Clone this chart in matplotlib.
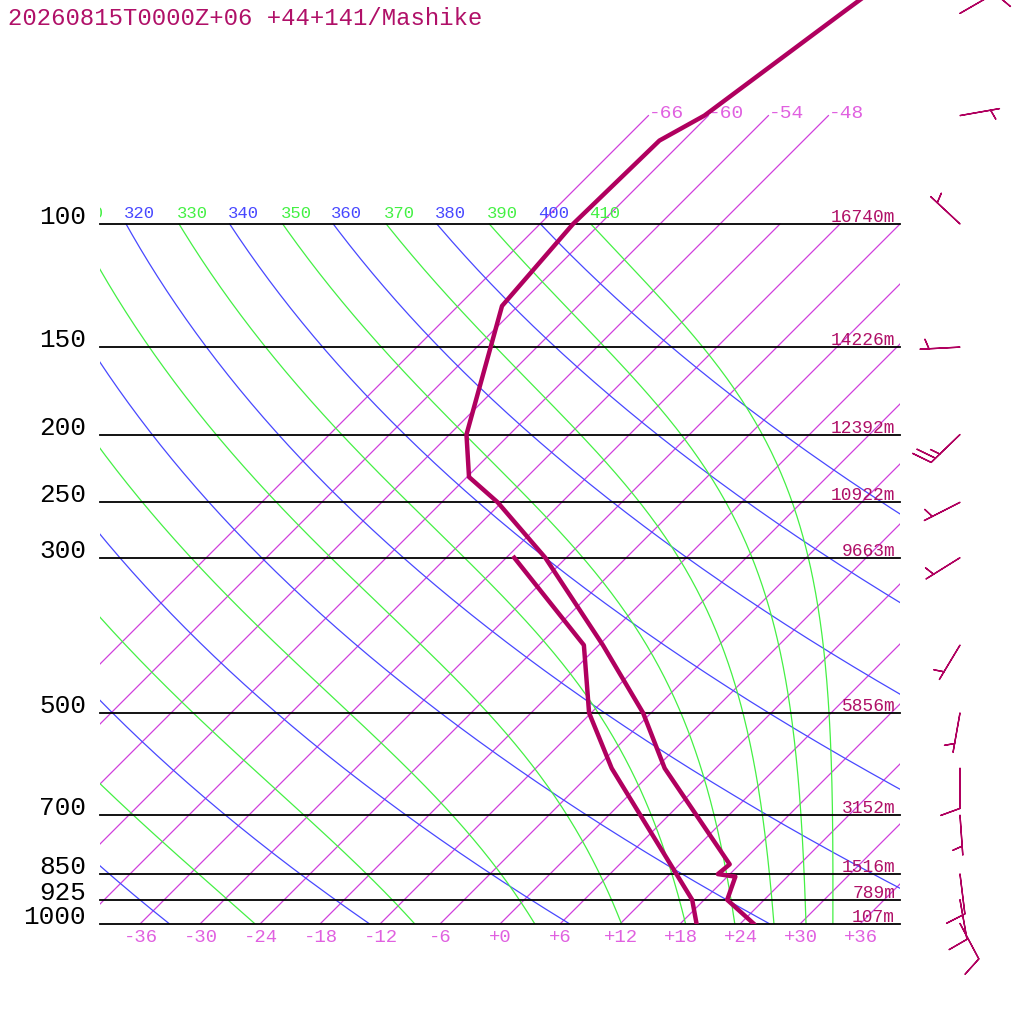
import numpy as np
import matplotlib
matplotlib.use("Agg")
import matplotlib.pyplot as plt
from matplotlib.transforms import Affine2D, blended_transform_factory, offset_copy

# ---- data ----
title = "20260815T0000Z+06 +44+141/Mashike"

# temperature profile (hPa, degC)
t_pres = [1000, 925, 857, 850, 823, 600, 500, 400, 300, 250, 230, 200, 131, 100, 76, 70, 50, 30]
t_temp = [25.3, 20.3, 18.8, 16.8, 17.0, 0.9, -6.8, -17.6, -32.1, -42.4, -47.8, -52.3, -61.6, -62.7,
          -62.4, -60.4, -56.9, -51.4]

# dew point profile
td_pres = [1000, 925, 600, 500, 400, 300]
td_temp = [19.6, 16.8, -4.4, -12.2, -19.5, -35.2]

# standard levels and geopotential heights
levels = [1000, 925, 850, 700, 500, 300, 250, 200, 150, 100]
heights = ["107m", "789m", "1516m", "3152m", "5856m", "9663m", "10922m", "12392m", "14226m", "16740m"]

# wind (direction from, degrees / speed, kt)
wind_pres = [1000, 925, 850, 700, 600, 500, 400, 300, 250, 200, 150, 100, 70, 50]
wind_dir = [152, 170, 173, 176, 180, 190, 211, 238, 243, 226, 267, 313, 80, 60]
wind_kt = [10, 10, 10, 5, 10, 5, 5, 5, 5, 25, 5, 5, 5, 10]

# background lines
isotherms = list(range(-66, 37, 6))
iso_top_labels = [-66, -60, -54, -48]
iso_bottom_labels = list(range(-36, 37, 6))
dry_thetas = list(range(240, 401, 20))
moist_thetas = list(range(250, 411, 20))
dry_labels = [320, 340, 360, 380, 400]
moist_labels = [310, 330, 350, 370, 390, 410]

line_col = "#b0005f"
text_col = "#b01068"
iso_col = "#d040dc"
iso_txt = "#e060e0"
dry_col = "#4848ff"
moist_col = "#44f044"
mono = "Liberation Mono"

# ---- figure / skewed axes ----
fig = plt.figure(figsize=(10.24, 10.24), dpi=100)
W, H = 800.0, 923.5
ax = fig.add_axes([100 / 1024, 100.5 / 1024, W / 1024, H / 1024])
ax.set_yscale("log")
ax.set_ylim(1000, 47.85)
ax.set_xlim(-40.05, 39.95)
ax.set_autoscale_on(False)
ax.axis("off")

skew = (ax.transData + ax.transAxes.inverted()
        + Affine2D().skew(np.arctan(H / W), 0) + ax.transAxes)
level_tr = blended_transform_factory(ax.transAxes, ax.transData)
label_tr = offset_copy(skew, fig, x=-2, y=6, units="dots")

# isotherms
for t in isotherms:
    top = 70 if t in iso_top_labels else 100
    ax.plot([t, t], [1000, top], transform=skew, color=iso_col, lw=0.9, zorder=1)
for t in iso_top_labels:
    ax.text(t, 70, f"{t:+d}", transform=offset_copy(skew, fig, x=0, y=-2, units="dots"),
            ha="left", va="baseline", fontsize=14, family=mono, color=iso_txt)
for t in iso_bottom_labels:
    ax.text(t, 1000, f"{t:+d}", transform=offset_copy(skew, fig, x=0, y=-18, units="dots"),
            ha="center", va="baseline", fontsize=13.6, family=mono, color=iso_txt,
            clip_on=False)


def theta_label(t100, th, col):
    txt = ax.text(t100, 100, str(th), transform=label_tr, ha="left", va="baseline",
                  fontsize=12.4, family=mono, color=col, clip_on=True)
    txt.set_clip_box(ax.bbox)


# dry adiabats
pp = np.geomspace(1000, 100, 200)
for th in dry_thetas:
    tt = th * (pp / 1000.0) ** 0.2857 - 273.15
    ax.plot(tt, pp, transform=skew, color=dry_col, lw=0.9, zorder=1)
    if th in dry_labels:
        theta_label(tt[-1], th, dry_col)


# moist (pseudo) adiabats from saturated Bolton theta-e
def theta_e_sat(tk, p):
    tc = tk - 273.15
    es = 6.112 * np.exp(17.67 * tc / (tc + 243.5))
    r = 622.0 * es / (p - es)
    return (tk * (1000.0 / p) ** (0.2854 * (1 - 0.00028 * r))
            * np.exp((3.376 / tk - 0.00254) * r * (1 + 0.00081 * r)))


def moist_line(the, p):
    lo = np.full_like(p, 100.0)
    hi = np.full_like(p, 310.0)
    for _ in range(60):
        mid = 0.5 * (lo + hi)
        big = theta_e_sat(mid, p) > the
        hi = np.where(big, mid, hi)
        lo = np.where(big, lo, mid)
    return 0.5 * (lo + hi) - 273.15


for th in moist_thetas:
    tt = moist_line(th, pp)
    ax.plot(tt, pp, transform=skew, color=moist_col, lw=0.9, zorder=1)
    if th in moist_labels:
        theta_label(tt[-1], th, moist_col)

# pressure levels
for p, h in zip(levels, heights):
    ax.axhline(p, color="black", lw=1.3, zorder=2, clip_on=False)
    ax.text(-0.0175, p, str(p), transform=level_tr, ha="right", va="baseline",
            fontsize=18.7, family=mono, color="black", clip_on=False)
    ax.text(0.994, p, h, transform=offset_copy(level_tr, fig, x=0, y=2, units="dots"),
            ha="right", va="baseline", fontsize=12.9, family=mono, color=text_col)

# profiles
ax.plot(t_temp, t_pres, transform=skew, color=line_col, lw=3.2, zorder=5)
ax.plot(td_temp, td_pres, transform=skew, color=line_col, lw=3.2, zorder=5)

# wind barbs right of the diagram
d = np.radians(wind_dir)
s = np.array(wind_kt, dtype=float)
u = -s * np.sin(d)
v = -s * np.cos(d)
ax.barbs(np.full(len(wind_pres), 1.075), wind_pres, u, v, transform=level_tr,
         length=7.6, color=line_col, linewidth=1.0, clip_on=False, zorder=6,
         sizes=dict(height=0.48, width=0.35, spacing=0.15))

fig.text(8 / 1024, 1 - 25 / 1024, title, ha="left", va="baseline", fontsize=17.2,
         family=mono, color=text_col)

fig.savefig("out.png", dpi=100)
